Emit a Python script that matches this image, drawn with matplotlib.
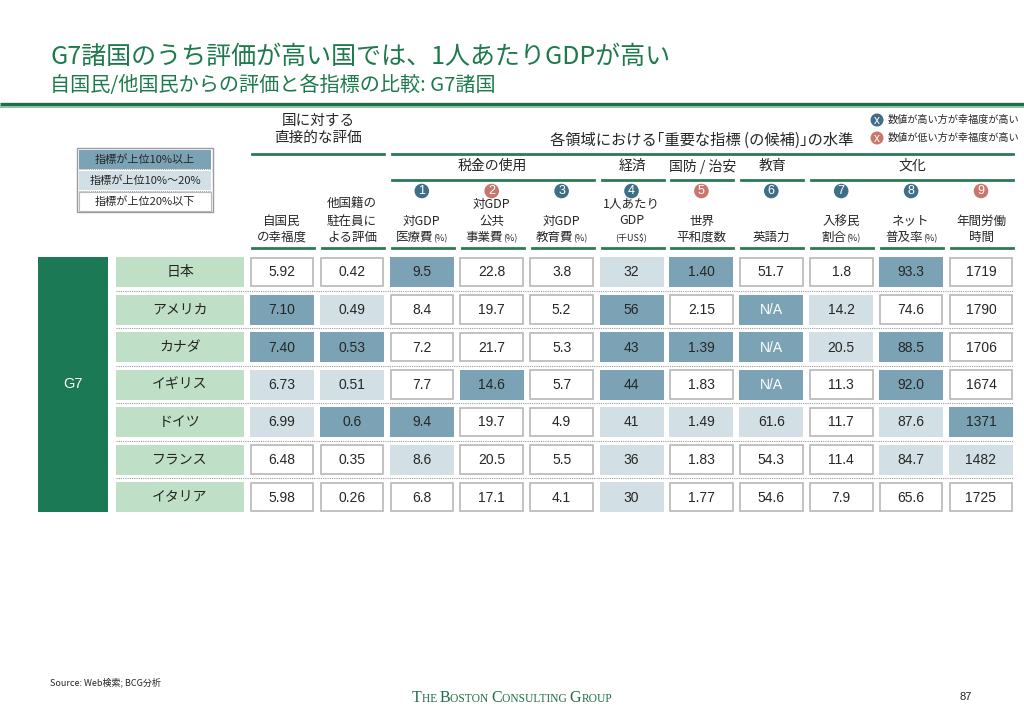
import matplotlib
matplotlib.use('Agg')
import matplotlib.pyplot as plt
from matplotlib.patches import Rectangle, Circle

plt.rcParams['font.family'] = ['Noto Sans CJK JP', 'DejaVu Sans']

# ---------------- data ----------------
countries = ['日本', 'アメリカ', 'カナダ', 'イギリス', 'ドイツ', 'フランス', 'イタリア']

happiness = ['5.92', '7.10', '7.40', '6.73', '6.99', '6.48', '5.98']
expat_rating = ['0.42', '0.49', '0.53', '0.51', '0.6', '0.35', '0.26']
health_spend = ['9.5', '8.4', '7.2', '7.7', '9.4', '8.6', '6.8']
public_works = ['22.8', '19.7', '21.7', '14.6', '19.7', '20.5', '17.1']
edu_spend = ['3.8', '5.2', '5.3', '5.7', '4.9', '5.5', '4.1']
gdp_per_capita = ['32', '56', '43', '44', '41', '36', '30']
peace_index = ['1.40', '2.15', '1.39', '1.83', '1.49', '1.83', '1.77']
english = ['51.7', 'N/A', 'N/A', 'N/A', '61.6', '54.3', '54.6']
immigrants = ['1.8', '14.2', '20.5', '11.3', '11.7', '11.4', '7.9']
internet = ['93.3', '74.6', '88.5', '92.0', '87.6', '84.7', '65.6']
work_hours = ['1719', '1790', '1706', '1674', '1371', '1482', '1725']

# tier: 0 = top 10%, 1 = top 10-20%, 2 = below 20%
tier_happiness = [2, 0, 0, 1, 1, 2, 2]
tier_expat = [2, 1, 0, 1, 0, 2, 2]
tier_health = [0, 2, 2, 2, 0, 1, 2]
tier_public = [2, 2, 2, 0, 2, 2, 2]
tier_edu = [2, 2, 2, 2, 2, 2, 2]
tier_gdp = [1, 0, 0, 0, 1, 1, 1]
tier_peace = [0, 2, 0, 2, 1, 2, 2]
tier_english = [2, 0, 0, 0, 1, 2, 2]
tier_immig = [2, 1, 1, 2, 2, 2, 2]
tier_internet = [0, 2, 0, 0, 1, 1, 2]
tier_hours = [2, 2, 2, 2, 0, 1, 2]

columns = [happiness, expat_rating, health_spend, public_works, edu_spend,
           gdp_per_capita, peace_index, english, immigrants, internet, work_hours]
tiers = [tier_happiness, tier_expat, tier_health, tier_public, tier_edu,
         tier_gdp, tier_peace, tier_english, tier_immig, tier_internet, tier_hours]

# column labels ('|' separates normal text from small suffix)
col_labels = [
    ['自国民', 'の幸福度'],
    ['他国籍の', '駐在員に', 'よる評価'],
    ['対GDP', '医療費|(%)'],
    ['対GDP', '公共', '事業費|(%)'],
    ['対GDP', '教育費|(%)'],
    ['1人あたり', 'GDP', '|(千US$)'],
    ['世界', '平和度数'],
    ['英語力'],
    ['入移民', '割合|(%)'],
    ['ネット', '普及率|(%)'],
    ['年間労働', '時間'],
]
indicator_numbers = ['1', '2', '3', '4', '5', '6', '7', '8', '9']
indicator_higher_better = [True, False, True, True, False, True, True, True, False]

groups = ['税金の使用', '経済', '国防 / 治安', '教育', '文化']
group_spans = [(2, 4), (5, 5), (6, 6), (7, 7), (8, 10)]

legend_labels = ['指標が上位10%以上', '指標が上位10%～20%', '指標が上位20%以下']

# ---------------- style ----------------
GREEN = '#1e7a4c'
DARK_GREEN_BLOCK = '#1b7a55'
LIGHT_GREEN = '#bfe0c6'
DARK_BLUE = '#7ba3b5'
LIGHT_BLUE = '#d2e0e6'
CIRCLE_DARK = '#3e6f86'
CIRCLE_SALMON = '#c8776b'
BORDER = '#b8b8b8'
TEXT = '#262626'
tier_fill = [DARK_BLUE, LIGHT_BLUE, 'white']

fig = plt.figure(figsize=(10.24, 7.09), dpi=100)
ax = fig.add_axes([0, 0, 1, 1])
ax.set_xlim(0, 1024)
ax.set_ylim(709, 0)
ax.axis('off')
renderer = fig.canvas.get_renderer()


def seg_text(xc, y, parts, color=TEXT, family=None, ha='center'):
    objs, widths = [], []
    for t, s in parts:
        kw = {}
        if family is not None:
            kw['family'] = family
        o = ax.text(0, y, t, fontsize=s, color=color, va='baseline', ha='left', **kw)
        widths.append(o.get_window_extent(renderer).width)
        objs.append(o)
    total = sum(widths)
    x = xc - total / 2 if ha == 'center' else xc
    for o, w in zip(objs, widths):
        o.set_x(x)
        x += w


# ---------------- title ----------------
ax.text(50, 57, 'G7諸国のうち評価が高い国では、1人あたりGDPが高い', fontsize=18,
        color=GREEN, va='center', ha='left')
ax.text(50, 85, '自国民/他国民からの評価と各指標の比較: G7諸国', fontsize=14.5,
        color=GREEN, va='center', ha='left')
ax.plot([0, 1024], [103.5, 103.5], color='#1f6e45', lw=2.4, solid_capstyle='butt')
ax.plot([0, 1024], [106.5, 106.5], color='#8cc4a4', lw=1.4, solid_capstyle='butt')

# ---------------- geometry ----------------
col_x0, col_pitch, cell_w = 250, 69.9, 64
row_y0, row_pitch, cell_h = 257, 37.5, 30
n_rows = len(countries)


def col_left(j):
    return col_x0 + col_pitch * j


def col_center(j):
    return col_left(j) + cell_w / 2


# ---------------- top headers ----------------
ax.text(318, 121, '国に対する', fontsize=10.5, color=TEXT, ha='center', va='center')
ax.text(318, 138, '直接的な評価', fontsize=10.5, color=TEXT, ha='center', va='center')
ax.plot([col_left(0) + 2, col_left(1) + cell_w], [154, 154], color='#2a7a55', lw=2)
ax.text(702, 140, '各領域における｢重要な指標 (の候補)｣の水準', fontsize=11,
        color=TEXT, ha='center', va='center')
ax.plot([col_left(2) + 2, col_left(10) + cell_w], [154, 154], color='#2a7a55', lw=2)

for g, (a, b) in zip(groups, group_spans):
    xa, xb = col_left(a) + 2, col_left(b) + cell_w
    ax.text((xa + xb) / 2, 166, g, fontsize=10, color=TEXT, ha='center', va='center')
    ax.plot([xa, xb], [180, 180], color='#2a7a55', lw=2)

for k, (num, hb) in enumerate(zip(indicator_numbers, indicator_higher_better)):
    cx = col_center(k + 2)
    ax.add_patch(Circle((cx, 191), 7.3, color=CIRCLE_DARK if hb else CIRCLE_SALMON, lw=0))
    ax.text(cx, 191.5, num, fontsize=9, color='white', ha='center', va='center',
            family='Liberation Sans')

for j, lines in enumerate(col_labels):
    n = len(lines)
    for i, line in enumerate(lines):
        yc = 237 - 16.5 * (n - 1 - i)
        if '|' in line:
            main, small = line.split('|')
            parts = []
            if main:
                parts.append((main, 9))
            parts.append((small, 6.5))
        else:
            parts = [(line, 9)]
        seg_text(col_center(j), yc + 4, parts)
    ax.plot([col_left(j) + 2, col_left(j) + cell_w], [248, 248], color='#2a7a55', lw=2)

# ---------------- right legend ----------------
for yy, c, t in [(120, CIRCLE_DARK, '数値が高い方が幸福度が高い'),
                 (138, CIRCLE_SALMON, '数値が低い方が幸福度が高い')]:
    ax.add_patch(Circle((877, yy), 6.5, color=c, lw=0))
    ax.text(877, yy + 0.5, 'x', fontsize=8.5, color='white', ha='center', va='center',
            family='Liberation Sans')
    ax.text(888, yy, t, fontsize=7.3, color=TEXT, ha='left', va='center')

# ---------------- left legend ----------------
ax.add_patch(Rectangle((77, 148), 136, 64, facecolor='white', edgecolor='#9a9a9a', lw=1))
leg_rows = [(150, 18.5), (170.5, 19.5), (192, 18.5)]
for (ly, lh), fill, lab in zip(leg_rows, tier_fill, legend_labels):
    ax.add_patch(Rectangle((79, ly), 132, lh, facecolor=fill,
                           edgecolor=BORDER if fill == 'white' else 'none', lw=0.8))
    ax.text(145, ly + lh / 2, lab, fontsize=8, color=TEXT, ha='center', va='center')
for ly in [169.3, 191.2]:
    ax.plot([79, 211], [ly, ly], color='#a0a0a0', lw=0.7, ls=(0, (1, 1)))

# ---------------- table ----------------
ax.add_patch(Rectangle((38, row_y0), 70, row_pitch * (n_rows - 1) + cell_h,
                       facecolor=DARK_GREEN_BLOCK, edgecolor='none'))
ax.text(73, row_y0 + (row_pitch * (n_rows - 1) + cell_h) / 2, 'G7', fontsize=10.5,
        color='white', ha='center', va='center', family='Liberation Sans')

for i, name in enumerate(countries):
    y = row_y0 + row_pitch * i
    ax.add_patch(Rectangle((116, y), 128, cell_h, facecolor=LIGHT_GREEN, edgecolor='none'))
    ax.text(180, y + cell_h / 2, name, fontsize=10, color=TEXT, ha='center', va='center')
    if i > 0:
        ax.plot([116, col_left(10) + cell_w], [y - 3.8, y - 3.8], color='#999999',
                lw=0.8, ls=(0, (1, 1)))
    for j, (vals, tr) in enumerate(zip(columns, tiers)):
        fill = tier_fill[tr[i]]
        x = col_left(j)
        if fill == 'white':
            ax.add_patch(Rectangle((x + 0.7, y + 0.7), cell_w - 1.4, cell_h - 1.4,
                                   facecolor='white', edgecolor=BORDER, lw=1.2))
        else:
            ax.add_patch(Rectangle((x, y), cell_w, cell_h, facecolor=fill, edgecolor='none'))
        v = vals[i]
        ax.text(x + cell_w / 2, y + cell_h / 2 + 0.5, v, fontsize=10,
                color='white' if v == 'N/A' else TEXT, ha='center', va='center',
                family='Liberation Sans')

# ---------------- footer ----------------
ax.text(50, 682, 'Source: Web検索; BCG分析', fontsize=6.5, color=TEXT, ha='left', va='center')
logo = [('T', 11.5), ('HE ', 8.3), ('B', 11.5), ('OSTON ', 8.3), ('C', 11.5),
        ('ONSULTING ', 8.3), ('G', 11.5), ('ROUP', 8.3)]
seg_text(512, 702, logo, color='#1f6e45', family='Liberation Serif')
ax.text(966, 697, '87', fontsize=8, color=TEXT, ha='center', va='center',
        family='Liberation Sans')

fig.savefig('out.png', dpi=100)
